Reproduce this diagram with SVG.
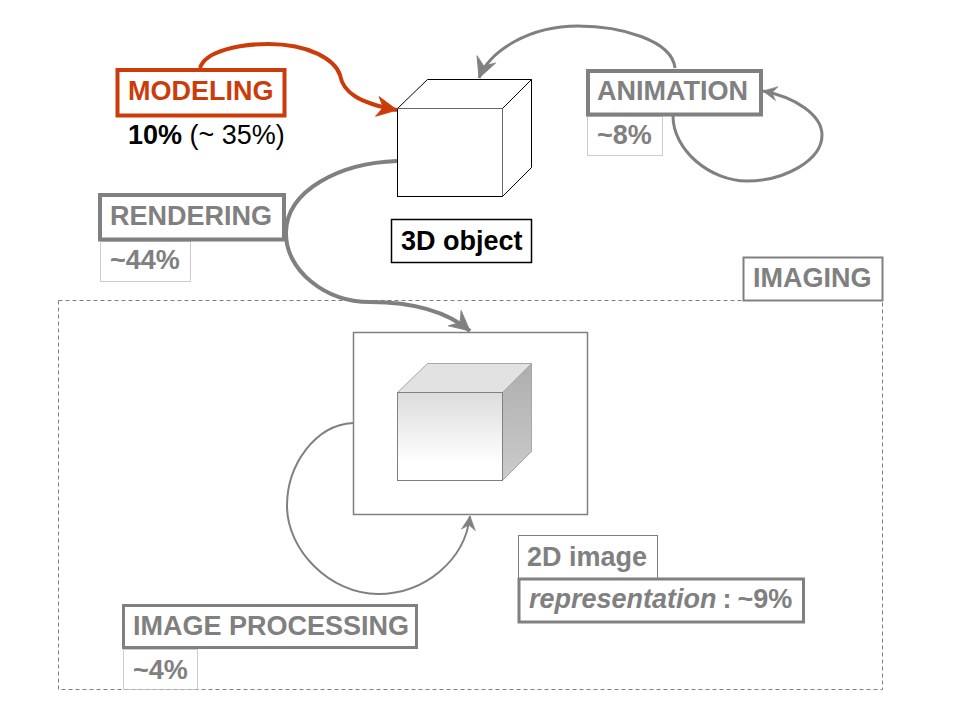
<svg xmlns="http://www.w3.org/2000/svg" width="960" height="720" viewBox="0 0 960 720">
<style>
text{font-family:"Liberation Sans",Arial,sans-serif;font-size:27px;font-weight:700;fill:#808080}
.box{fill:#fff;stroke:#808080}
.dot{fill:#fff;stroke:#999;stroke-width:1;stroke-dasharray:1 1}
.wire{fill:none;stroke:#808080}
.cube{fill:#fff;stroke:#000;stroke-width:1}
</style>
<defs>
<marker id="headRed" markerUnits="userSpaceOnUse" viewBox="-24 -13 26 26" refX="0" refY="0" markerWidth="26" markerHeight="26" orient="auto"><path d="M0,0L-20,-10L-14,0L-20,10Z" fill="#cc3c0b" stroke="#cc3c0b" stroke-width="0.800"/></marker>
<marker id="headGrey" markerUnits="userSpaceOnUse" viewBox="-24 -13 26 26" refX="0" refY="0" markerWidth="26" markerHeight="26" orient="auto"><path d="M0,0L-20,-10L-13,0L-20,10Z" fill="#808080" stroke="#808080" stroke-width="0.800"/></marker>
<marker id="headGreySmall" markerUnits="userSpaceOnUse" viewBox="-24 -13 26 26" refX="0" refY="0" markerWidth="26" markerHeight="26" orient="auto"><path d="M0,0L-14,-7L-9,0L-14,7Z" fill="#808080" stroke="#808080" stroke-width="0.600"/></marker>
<linearGradient id="frontFill" x1="0" y1="0" x2="0" y2="1"><stop offset="0" stop-color="#dcdcdc"/><stop offset="0.8" stop-color="#fff"/></linearGradient>
<linearGradient id="sideFill" x1="0" y1="0" x2="0" y2="1"><stop offset="0" stop-color="#aeaeae"/><stop offset="1" stop-color="#cbcbcb"/></linearGradient>
</defs>

<g id="imaging-area"><rect x="58.500" y="300.500" width="824" height="389" fill="none" stroke="#808080" stroke-width="1" stroke-dasharray="4 3"/></g>

<g id="object-3d">
<path class="cube" d="M397.500,108.500L427.500,79.500H531.500V167.500L502.500,196.500Z"/>
<path d="M502.500,108.500L531.500,79.500" fill="none" stroke="#000" stroke-width="1"/>
<rect class="cube" x="397.500" y="108.500" width="105" height="88"/>
<path d="M397.500,108.500H502.500V196.500" fill="none" stroke="#666" stroke-width="1"/>
</g>

<g id="object-label"><rect x="391.500" y="219.500" width="140" height="43" fill="#fff" stroke="#000" stroke-width="1.500"/><text x="401" y="250" style="fill:#000">3D object</text></g>

<g id="image-2d">
<rect class="box" x="353.500" y="332.500" width="234" height="182" stroke-width="1.500"/>
<path d="M397.500,392.500L427.500,363.500H531.500L502.500,392.500Z" fill="#e2e2e2" stroke="#a6a6a6" stroke-width="1"/>
<path d="M502.500,392.500L531.500,363.500V451.500L502.500,480.500Z" fill="url(#sideFill)" stroke="#a6a6a6" stroke-width="1"/>
<rect x="397.500" y="392.500" width="105" height="88" fill="url(#frontFill)" stroke="#808080" stroke-width="1"/>
</g>

<g id="connectors">
<path class="wire" style="stroke:#cc3c0b" stroke-width="4" marker-end="url(#headRed)" d="M200,68C205,51 240,44 268,44C310,44 335,60 340,75C343,92 358,103 397,110"/>
<path class="wire" stroke-width="4" marker-end="url(#headGrey)" d="M397,161C340,163 287,190 286,232C285,270 325,302 370,302C410,302 445,310 470,331"/>
<path class="wire" stroke-width="3" marker-end="url(#headGrey)" d="M675,68C672,40 620,26 578,26C530,26 490,50 479,78"/>
<path class="wire" stroke-width="3" marker-end="url(#headGreySmall)" d="M673,116C673,150 710,181 747,181C785,181 822,160 822,135C822,115 795,97 763,91"/>
<path class="wire" stroke-width="2" marker-end="url(#headGreySmall)" d="M353,423C315,425 287,465 287,506C287,550 330,594 378,594C425,594 465,560 470,516"/>
</g>

<g id="modeling">
<rect x="117.500" y="70" width="167" height="45.500" fill="#fff" stroke="#cc3c0b" stroke-width="4"/>
<text x="128" y="100" style="fill:#cc3c0b">MODELING</text>
<text x="128" y="144" style="fill:#000">10% <tspan font-weight="400">(~ 35%)</tspan></text>
</g>

<g id="rendering">
<rect class="dot" x="100.500" y="241.500" width="90" height="40"/>
<rect class="box" x="100" y="195" width="184" height="44.500" stroke-width="4"/>
<text x="110" y="225">RENDERING</text>
<text x="110" y="269">~44%</text>
</g>

<g id="animation">
<rect class="dot" x="587.500" y="116.500" width="75" height="39"/>
<rect class="box" x="588" y="71" width="173" height="43.500" stroke-width="4"/>
<text x="597" y="100">ANIMATION</text>
<text x="597" y="144">~8%</text>
</g>

<g id="imaging"><rect class="box" x="743.500" y="257.500" width="139" height="43" stroke-width="2"/><text x="753" y="287">IMAGING</text></g>

<g id="image-label">
<rect class="box" x="518.500" y="535.500" width="139" height="43" stroke-width="1"/>
<text x="527" y="566">2D image</text>
<rect class="box" x="519" y="579" width="284.500" height="43" stroke-width="3"/>
<text x="529" y="608" word-spacing="-1.500"><tspan font-style="italic">representation</tspan> : ~9%</text>
</g>

<g id="image-processing">
<rect class="dot" x="123.500" y="649.500" width="74" height="40"/>
<rect class="box" x="123.500" y="605.500" width="293" height="42" stroke-width="3"/>
<text x="133" y="635">IMAGE PROCESSING</text>
<text x="133" y="679">~4%</text>
</g>
</svg>
